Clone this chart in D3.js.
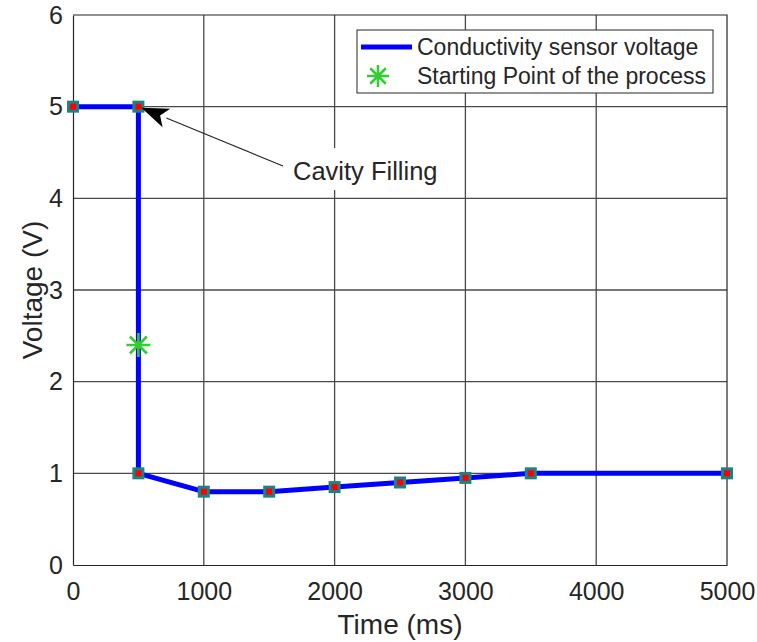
<!DOCTYPE html>
<html lang="en">
  <head>
    <script src="https://d3js.org/d3.v7.min.js"></script>
    <title>Conductivity sensor voltage</title>
  </head>
  <body style="margin:0;background:#fff;">
  <script type="text/javascript">

    // data
    var timeMs = [0, 500, 500, 1000, 1500, 2000, 2500, 3000, 3500, 5000];
    var voltage = [5, 5, 1, 0.8, 0.8, 0.85, 0.9, 0.95, 1, 1];
    var startPoint = [500, 2.4];
    var xTicks = [0, 1000, 2000, 3000, 4000, 5000];
    var yTicks = [0, 1, 2, 3, 4, 5, 6];
    var legendLabels = ["Conductivity sensor voltage", "Starting Point of the process"];
    var annotationText = "Cavity Filling";
    var annotationTarget = [500, 5];

    var width = 757, height = 642;
    // plot box (note: "top" is reserved on window, so use other names)
    var plotL = 73, plotR = 727, plotT = 15, plotB = 565;
    var font = "Liberation Sans, Arial, Helvetica, sans-serif";

    var x = d3.scaleLinear().domain([0, 5000]).range([plotL, plotR]);
    var y = d3.scaleLinear().domain([0, 6]).range([plotB, plotT]);

    var svg = d3.select("body").append("svg")
      .attr("width", width)
      .attr("height", height)
      .style("font-family", font);

    // grid
    var grid = svg.append("g").attr("stroke", "#4a4a4a").attr("stroke-width", 1.3);
    grid.selectAll("line.gx").data(xTicks.slice(1, -1)).enter().append("line")
      .attr("x1", d => x(d)).attr("x2", d => x(d))
      .attr("y1", plotT).attr("y2", plotB);
    grid.selectAll("line.gy").data(yTicks.slice(1, -1)).enter().append("line")
      .attr("y1", d => y(d)).attr("y2", d => y(d))
      .attr("x1", plotL).attr("x2", plotR);

    // axes
    var xAxis = svg.append("g")
      .attr("transform", "translate(0," + plotB + ")")
      .call(d3.axisBottom(x).tickValues(xTicks).tickFormat(d3.format("d")).tickSize(0).tickPadding(17));
    var yAxis = svg.append("g")
      .attr("transform", "translate(" + plotL + ",0)")
      .call(d3.axisLeft(y).tickValues(yTicks).tickFormat(d3.format("d")).tickSize(0).tickPadding(10));
    [xAxis, yAxis].forEach(function(a) {
      a.select(".domain").attr("stroke", "#262626").attr("stroke-width", 1.2);
      a.selectAll("text").attr("fill", "#262626").style("font-size", "25px").style("font-family", font);
    });

    // top and right box edges
    svg.append("path")
      .attr("d", "M" + plotL + "," + plotT + "H" + plotR + "V" + plotB)
      .attr("fill", "none").attr("stroke", "#262626").attr("stroke-width", 1.2);

    // axis labels
    svg.append("text")
      .attr("x", (plotL + plotR) / 2).attr("y", 634)
      .attr("text-anchor", "middle").attr("fill", "#262626")
      .style("font-size", "28px").text("Time (ms)");
    svg.append("text")
      .attr("transform", "translate(42," + (plotT + plotB) / 2 + ") rotate(-90)")
      .attr("text-anchor", "middle").attr("fill", "#262626")
      .style("font-size", "28px").text("Voltage (V)");

    // annotation text with white background
    var ann = svg.append("g");
    ann.append("rect")
      .attr("x", 286).attr("y", 148).attr("width", 160).attr("height", 42)
      .attr("fill", "#fff");
    ann.append("text")
      .attr("x", 293).attr("y", 180)
      .attr("fill", "#262626").style("font-size", "25.5px")
      .text(annotationText);

    // line
    var line = d3.line().x(d => x(d[0])).y(d => y(d[1]));
    var pts = timeMs.map((t, i) => [t, voltage[i]]);
    svg.append("path")
      .datum(pts)
      .attr("d", line)
      .attr("fill", "none")
      .attr("stroke", "#0000ff")
      .attr("stroke-width", 5)
      .attr("stroke-linejoin", "round");

    // markers
    svg.append("g").selectAll("rect").data(pts).enter().append("rect")
      .attr("x", d => x(d[0]) - 4.5).attr("y", d => y(d[1]) - 4.5)
      .attr("width", 9).attr("height", 9)
      .attr("fill", "#ff0000")
      .attr("stroke", "#1a8484").attr("stroke-width", 3);

    // asterisk marker
    function asterisk(g, cx, cy, r) {
      var s = r * Math.SQRT1_2;
      g.append("path")
        .attr("d", "M" + (cx - r) + "," + cy + "H" + (cx + r) +
                   "M" + cx + "," + (cy - r) + "V" + (cy + r) +
                   "M" + (cx - s) + "," + (cy - s) + "L" + (cx + s) + "," + (cy + s) +
                   "M" + (cx - s) + "," + (cy + s) + "L" + (cx + s) + "," + (cy - s))
        .attr("stroke", "#33cc33").attr("stroke-width", 2.6).attr("fill", "none");
    }
    asterisk(svg, x(startPoint[0]), y(startPoint[1]), 12);

    // arrow
    var ax = x(annotationTarget[0]) + 3, ay = y(annotationTarget[1]) + 1;
    var sx = 283, sy = 166;
    var ang = Math.atan2(sy - ay, sx - ax);
    var headLen = 27, headW = 10;
    var bx = ax + headLen * Math.cos(ang), by = ay + headLen * Math.sin(ang);
    svg.append("line")
      .attr("x1", sx).attr("y1", sy).attr("x2", bx).attr("y2", by)
      .attr("stroke", "#262626").attr("stroke-width", 1.2);
    var px = -Math.sin(ang), py = Math.cos(ang);
    var ix = ax + headLen * 0.75 * Math.cos(ang), iy = ay + headLen * 0.75 * Math.sin(ang);
    svg.append("path")
      .attr("d", "M" + ax + "," + ay +
                 "L" + (bx + px * headW) + "," + (by + py * headW) +
                 "L" + ix + "," + iy +
                 "L" + (bx - px * headW) + "," + (by - py * headW) + "Z")
      .attr("fill", "#000");

    // legend
    var lg = svg.append("g");
    lg.append("rect")
      .attr("x", 357).attr("y", 30).attr("width", 356).attr("height", 63)
      .attr("fill", "#fff").attr("stroke", "#262626").attr("stroke-width", 1);
    lg.append("line")
      .attr("x1", 361).attr("x2", 412).attr("y1", 47).attr("y2", 47)
      .attr("stroke", "#0000ff").attr("stroke-width", 5);
    asterisk(lg, 378, 76, 11);
    lg.selectAll("text.lt").data(legendLabels).enter().append("text")
      .attr("x", 417).attr("y", (d, i) => 55 + i * 29)
      .attr("fill", "#262626").style("font-size", "23px")
      .text(d => d);

  </script>
  </body>
</html>
